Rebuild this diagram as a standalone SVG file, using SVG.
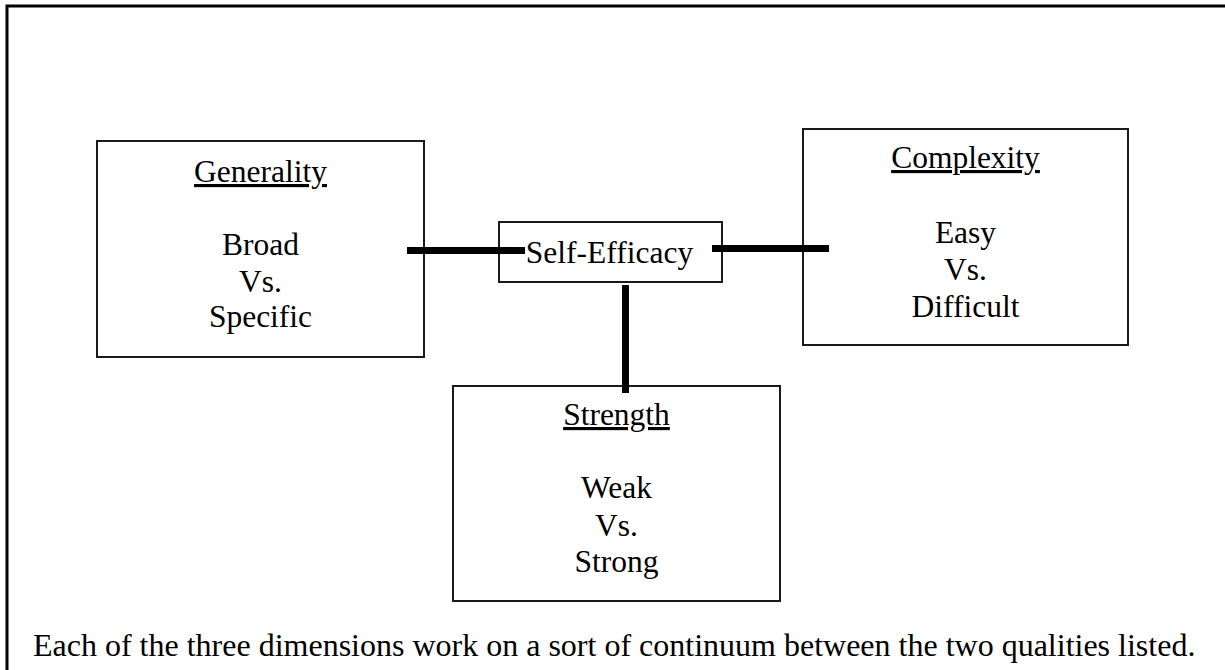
<svg xmlns="http://www.w3.org/2000/svg" width="1225" height="670" viewBox="0 0 1225 670">
<style>
text{font-family:"Liberation Serif","Times New Roman",serif;font-size:31.5px;fill:#000;}
.c{text-anchor:middle;}
.u{text-decoration:underline;}
.box{fill:#fff;stroke:#1a1a1a;stroke-width:2;}
.conn{stroke:#000;stroke-width:7;fill:none;stroke-linecap:butt;}
.frame{stroke:#000;stroke-width:3;fill:none;}
#caption{font-size:32px;}
</style>
<rect width="1225" height="670" fill="#fff"/>
<polyline class="frame" points="7,670 7,6 1225,6"/>
<g id="generality">
<rect class="box" x="97" y="141" width="327" height="216"/>
<text class="c u" x="260.5" y="182">Generality</text>
<text class="c" x="260.5" y="255">Broad</text>
<text class="c" x="260.5" y="292">Vs.</text>
<text class="c" x="260.5" y="327">Specific</text>
</g>
<g id="complexity">
<rect class="box" x="803" y="129" width="325" height="216"/>
<text class="c u" x="965.5" y="168">Complexity</text>
<text class="c" x="965.5" y="243">Easy</text>
<text class="c" x="965.5" y="280">Vs.</text>
<text class="c" x="965.5" y="317">Difficult</text>
</g>
<g id="strength">
<rect class="box" x="453" y="386" width="327" height="215"/>
<text class="c u" x="616.5" y="425">Strength</text>
<text class="c" x="616.5" y="498">Weak</text>
<text class="c" x="616.5" y="536">Vs.</text>
<text class="c" x="616.5" y="572">Strong</text>
</g>
<g id="self-efficacy">
<rect class="box" x="499" y="222" width="223" height="60"/>
</g>
<g id="connectors">
<line class="conn" x1="407" y1="250.5" x2="525" y2="250.5"/>
<line class="conn" x1="712" y1="248.5" x2="829" y2="248.5"/>
<line class="conn" x1="625.5" y1="285" x2="625.5" y2="393"/>
</g>
<text class="c" x="609.5" y="263">Self-Efficacy</text>
<text id="caption" x="33" y="656">Each of the three dimensions work on a sort of continuum between the two qualities listed.</text>
</svg>
